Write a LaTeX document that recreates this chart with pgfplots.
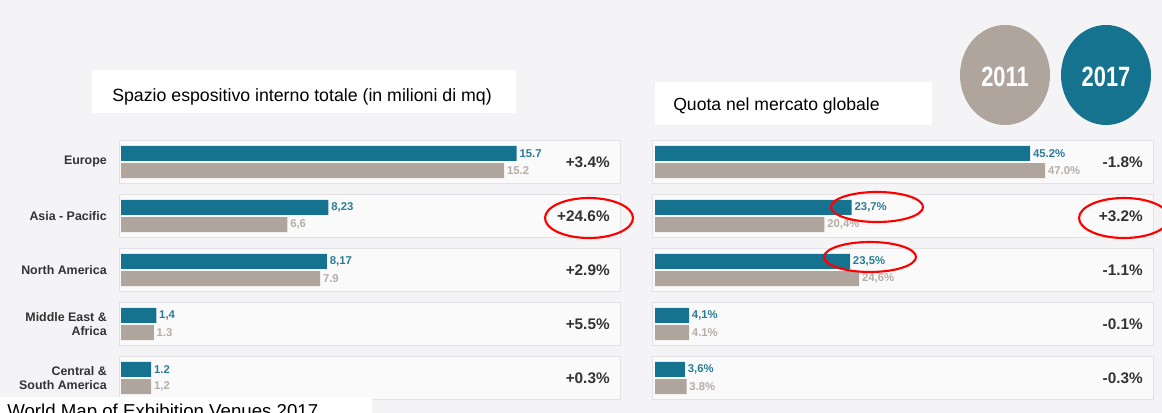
\documentclass[border=0pt]{standalone}
\usepackage{pgfplots}
\pgfplotsset{compat=1.18}
\usepackage{pgfplotstable}
\usepackage{fontspec}
\setmainfont{Liberation Sans}
\definecolor{tealc}{HTML}{16738F}
\definecolor{grayc}{HTML}{B0A59C}
\definecolor{grayt}{HTML}{B5ADA6}
\definecolor{tealt}{HTML}{2A7C96}
\definecolor{bgc}{HTML}{F4F4F6}
\definecolor{boxb}{HTML}{E2E2E4}
\definecolor{txt}{HTML}{333333}

\pgfplotstableread{
y v lab
0 15.7 15.7
1 8.23 8,23
2 8.17 8,17
3 1.4 1,4
4 1.2 1.2
}\leftnew
\pgfplotstableread{
y v lab
0 15.2 15.2
1 6.6 6,6
2 7.9 7.9
3 1.3 1.3
4 1.2 1,2
}\leftold
\pgfplotstableread{
y v lab
0 45.2 45.2
1 23.7 23,7
2 23.5 23,5
3 4.1 4,1
4 3.6 3,6
}\rightnew
\pgfplotstableread{
y v lab
0 47.0 47.0
1 20.4 20,4
2 24.6 24,6
3 4.1 4.1
4 3.8 3.8
}\rightold

\pgfplotsset{
  rowstyle/.style={
    scale only axis, height=202.5pt,
    ymin=-0.5, ymax=4.5, y dir=reverse, xmin=0,
    hide axis, xbar, bar width=11.25pt,
    clip=false,
  },
}
\newcommand{\chg}[1]{\fontsize{11.5}{13}\selectfont\bfseries\color{txt}#1}
\newcommand{\cat}[1]{\fontsize{9.3}{10.5}\selectfont\bfseries\color{txt}#1}

\begin{document}
\begin{tikzpicture}
\begin{scope}[x=0.75pt,y=-0.75pt]
\useasboundingbox (0,0) rectangle (1162,413);
\fill[bgc] (0,0) rectangle (1162,413);
% title boxes
\fill[white] (92,70) rectangle (516,113);
\node[anchor=base west, inner sep=0pt] at (112,102)
  {\fontsize{13.3}{15}\selectfont Spazio espositivo interno totale (in milioni di mq)};
\fill[white] (655,82) rectangle (932,125);
\node[anchor=base west, inner sep=0pt] at (673,111)
  {\fontsize{13.2}{15}\selectfont Quota nel mercato globale};
% legend circles
\fill[grayc] (1005,75) ellipse [x radius=45, y radius=50];
\fill[tealc] (1106,75) ellipse [x radius=45, y radius=50];
\node[white, xscale=0.78] at (1005,77) {\fontsize{21}{24}\selectfont\bfseries 2011};
\node[white, xscale=0.78] at (1106,77) {\fontsize{21}{24}\selectfont\bfseries 2017};
\end{scope}

% LEFT
\begin{axis}[rowstyle, at={(90.75pt,-101.25pt)}, anchor=north west, width=374.25pt, xmax=19.8,
  point meta=explicit symbolic,
  nodes near coords, nodes near coords style={font=\fontsize{8.5}{10}\selectfont\bfseries, inner sep=2pt, anchor=west},
]
\pgfplotsinvokeforeach{0,...,4}{
  \draw[boxb, fill=white, fill opacity=0.6] (axis cs:-0.08,#1-0.4) rectangle (axis cs:19.8,#1+0.4);
}
\addplot[fill=tealc, draw=none, bar shift=6.4pt, nodes near coords style={text=tealt}] table[x=v, y=y, meta=lab] {\leftnew};
\addplot[fill=grayc, draw=none, bar shift=-6.4pt, nodes near coords style={text=grayt}] table[x=v, y=y, meta=lab] {\leftold};
\node[anchor=east, inner sep=0pt] at (axis cs:19.4,0) {\chg{+3.4\%}};
\node[anchor=east, inner sep=0pt] at (axis cs:19.4,1) {\chg{+24.6\%}};
\node[anchor=east, inner sep=0pt] at (axis cs:19.4,2) {\chg{+2.9\%}};
\node[anchor=east, inner sep=0pt] at (axis cs:19.4,3) {\chg{+5.5\%}};
\node[anchor=east, inner sep=0pt] at (axis cs:19.4,4) {\chg{+0.3\%}};
\node[anchor=east, align=right, inner sep=0pt] at ([xshift=-10.5pt]axis cs:0,0) {\cat{Europe}};
\node[anchor=east, align=right, inner sep=0pt] at ([xshift=-10.5pt]axis cs:0,1) {\cat{Asia - Pacific}};
\node[anchor=east, align=right, inner sep=0pt] at ([xshift=-10.5pt]axis cs:0,2) {\cat{North America}};
\node[anchor=east, align=right, inner sep=0pt, font=\fontsize{9.3}{10.5}\selectfont\bfseries, text=txt] at ([xshift=-10.5pt]axis cs:0,3) {Middle East \&\\Africa};
\node[anchor=east, align=right, inner sep=0pt, font=\fontsize{9.3}{10.5}\selectfont\bfseries, text=txt] at ([xshift=-10.5pt]axis cs:0,4) {Central \&\\South America};
\end{axis}

% RIGHT
\begin{axis}[rowstyle, at={(491.25pt,-101.25pt)}, anchor=north west, width=373.5pt, xmax=60,
  point meta=explicit symbolic,
  nodes near coords={\pgfplotspointmeta\%},
  nodes near coords style={font=\fontsize{8.5}{10}\selectfont\bfseries, inner sep=2pt, anchor=west},
]
\pgfplotsinvokeforeach{0,...,4}{
  \draw[boxb, fill=white, fill opacity=0.6] (axis cs:-0.3,#1-0.4) rectangle (axis cs:60,#1+0.4);
}
\addplot[fill=tealc, draw=none, bar shift=6.4pt, nodes near coords style={text=tealt}] table[x=v, y=y, meta=lab] {\rightnew};
\addplot[fill=grayc, draw=none, bar shift=-6.4pt, nodes near coords style={text=grayt}] table[x=v, y=y, meta=lab] {\rightold};
\node[anchor=east, inner sep=0pt] at (axis cs:58.8,0) {\chg{-1.8\%}};
\node[anchor=east, inner sep=0pt] at (axis cs:58.8,1) {\chg{+3.2\%}};
\node[anchor=east, inner sep=0pt] at (axis cs:58.8,2) {\chg{-1.1\%}};
\node[anchor=east, inner sep=0pt] at (axis cs:58.8,3) {\chg{-0.1\%}};
\node[anchor=east, inner sep=0pt] at (axis cs:58.8,4) {\chg{-0.3\%}};
\end{axis}

\begin{scope}[x=0.75pt,y=-0.75pt]
% red highlight ellipses
\draw[red, line width=1.6pt] (589,218) ellipse [x radius=44, y radius=20];
\draw[red, line width=1.6pt] (877,207) ellipse [x radius=46, y radius=15];
\draw[red, line width=1.6pt] (870,257) ellipse [x radius=46, y radius=15];
\draw[red, line width=1.6pt, overlay] (1124,218) ellipse [x radius=45, y radius=20];
% source line (cut at the bottom)
\fill[white] (0,397) rectangle (372,413);
\node[anchor=base west, inner sep=0pt, overlay] at (7,417)
  {\fontsize{14}{16}\selectfont World Map of Exhibition Venues 2017};
\end{scope}
\end{tikzpicture}
\end{document}
